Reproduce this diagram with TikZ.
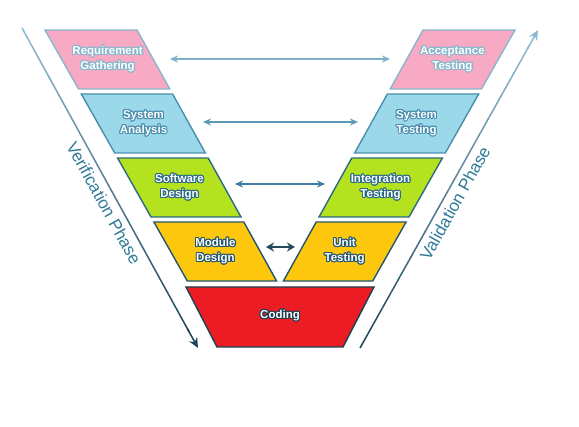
\documentclass[tikz,border=0pt]{standalone}
\usepackage{fontspec}
\setmainfont{Liberation Sans}
\usepackage{contour}
\contourlength{1pt}
\usetikzlibrary{arrows.meta,calc}
\definecolor{pinkF}{HTML}{F8A9C3}
\definecolor{pinkD}{HTML}{86B7CC}
\definecolor{blueF}{HTML}{9AD8EA}
\definecolor{blueD}{HTML}{4A8FAE}
\definecolor{greenF}{HTML}{B4E21E}
\definecolor{greenD}{HTML}{2A6A83}
\definecolor{yellowF}{HTML}{FDC70E}
\definecolor{yellowD}{HTML}{22566E}
\definecolor{redF}{HTML}{EC1C24}
\definecolor{redD}{HTML}{1C4053}
\definecolor{arrA}{HTML}{7FB1C9}
\definecolor{arrB}{HTML}{5C9AB7}
\definecolor{arrC}{HTML}{3D7F9E}
\definecolor{arrD}{HTML}{23495C}
\definecolor{phLight}{HTML}{8CBAD0}
\definecolor{phDark}{HTML}{1C4459}
\definecolor{phText}{HTML}{2F7A98}
\newcommand{\twolines}[3]{\contour{#1}{#2}\\\contour{#1}{#3}}
\begin{document}
\begin{tikzpicture}[x=1pt,y=-1pt,
  band/.style={line width=1.4pt, line join=miter},
  lbl/.style={text=white, font=\bfseries\fontsize{11.5}{15}\selectfont, align=center, inner sep=0pt},
  link/.style={line width=1.5pt, {Stealth[length=8pt,width=7pt]}-{Stealth[length=8pt,width=7pt]}},
  linkbold/.style={line width=2.2pt, {Stealth[length=8pt,width=9pt]}-{Stealth[length=8pt,width=9pt]}},
  phase/.style={font=\fontsize{17}{20}\selectfont, text=phText, inner sep=0pt},
  phline/.style={line width=1.5pt}]
\fill[white] (0,0) rectangle (579,427);
\useasboundingbox (0,0) rectangle (579,427);

% left bands
\filldraw[band, fill=pinkF, draw=pinkD] (45,30) -- (137,30) -- (169.8,89) -- (78.5,89) -- cycle;
\filldraw[band, fill=blueF, draw=blueD] (81.3,94) -- (172.6,94) -- (205.4,153) -- (114.7,153) -- cycle;
\filldraw[band, fill=greenF, draw=greenD] (117.6,158) -- (208.2,158) -- (241,217) -- (151,217) -- cycle;
\filldraw[band, fill=yellowF, draw=yellowD] (153.9,222) -- (243.8,222) -- (276.6,281) -- (187.3,281) -- cycle;
% right bands
\filldraw[band, fill=pinkF, draw=pinkD] (515,30) -- (423,30) -- (390.2,89) -- (481.5,89) -- cycle;
\filldraw[band, fill=blueF, draw=blueD] (478.7,94) -- (387.4,94) -- (354.6,153) -- (445.3,153) -- cycle;
\filldraw[band, fill=greenF, draw=greenD] (442.4,158) -- (351.8,158) -- (319,217) -- (409,217) -- cycle;
\filldraw[band, fill=yellowF, draw=yellowD] (406.1,222) -- (316.2,222) -- (283.4,281) -- (372.7,281) -- cycle;
% coding
\filldraw[band, fill=redF, draw=redD] (186,287) -- (374,287) -- (343,347) -- (217,347) -- cycle;

% labels
\node[lbl] (rg) at (107.6,59.5) {\twolines{pinkD}{Requirement}{Gathering}};
\node[lbl] (sa) at (143.5,123.5) {\twolines{blueD}{System}{Analysis}};
\node[lbl] (sd) at (179.5,187.5) {\twolines{greenD}{Software}{Design}};
\node[lbl] (md) at (215.4,251.5) {\twolines{yellowD}{Module}{Design}};
\node[lbl] (at) at (452.4,59.5) {\twolines{pinkD}{Acceptance}{Testing}};
\node[lbl] (st) at (416.5,123.5) {\twolines{blueD}{System}{Testing}};
\node[lbl] (it) at (380.5,187.5) {\twolines{greenD}{Integration}{Testing}};
\node[lbl] (ut) at (344.6,251.5) {\twolines{yellowD}{Unit}{Testing}};
\node[lbl] (cd) at (280,316) {\contour{redD}{Coding}};

% horizontal links
\coordinate (a1l) at (170,59);  \coordinate (a1r) at (390,59);
\coordinate (a2l) at (203,122); \coordinate (a2r) at (358,122);
\coordinate (a3l) at (235,184); \coordinate (a3r) at (325,184);
\coordinate (a4l) at (266,247); \coordinate (a4r) at (295,247);
\draw[link, arrA] (a1l) -- (a1r);
\draw[link, arrB] (a2l) -- (a2r);
\draw[link, arrC] (a3l) -- (a3r);
\draw[linkbold, arrD] (a4l) -- (a4r);

% verification phase arrow
\coordinate (vt) at (22,28); \coordinate (vb) at (198,348);
\foreach \i in {0,...,37} {
  \pgfmathtruncatemacro\p{100*\i/37}
  \pgfmathsetmacro\qa{\i/40}
  \pgfmathsetmacro\qb{(\i+1)/40}
  \draw[phline, phDark!\p!phLight] ($(vt)!\qa!(vb)$) -- ($(vt)!\qb!(vb)$);
}
\draw[phline, phDark, -{Stealth[length=10pt,width=9pt]}] ($(vt)!0.94!(vb)$) -- (vb);
\node[phase, rotate=-61.2] (vp) at (104,203) {Verification Phase};

% validation phase arrow
\coordinate (lb) at (360,348); \coordinate (lt) at (538,30);
\foreach \i in {0,...,37} {
  \pgfmathtruncatemacro\p{100*\i/37}
  \pgfmathsetmacro\qa{\i/40}
  \pgfmathsetmacro\qb{(\i+1)/40}
  \draw[phline, phLight!\p!phDark] ($(lb)!\qa!(lt)$) -- ($(lb)!\qb!(lt)$);
}
\draw[phline, phLight, -{Stealth[length=10pt,width=9pt]}] ($(lb)!0.94!(lt)$) -- (lt);
\node[phase, rotate=60.9] (lp) at (455,203) {Validation Phase};
\end{tikzpicture}
\end{document}
